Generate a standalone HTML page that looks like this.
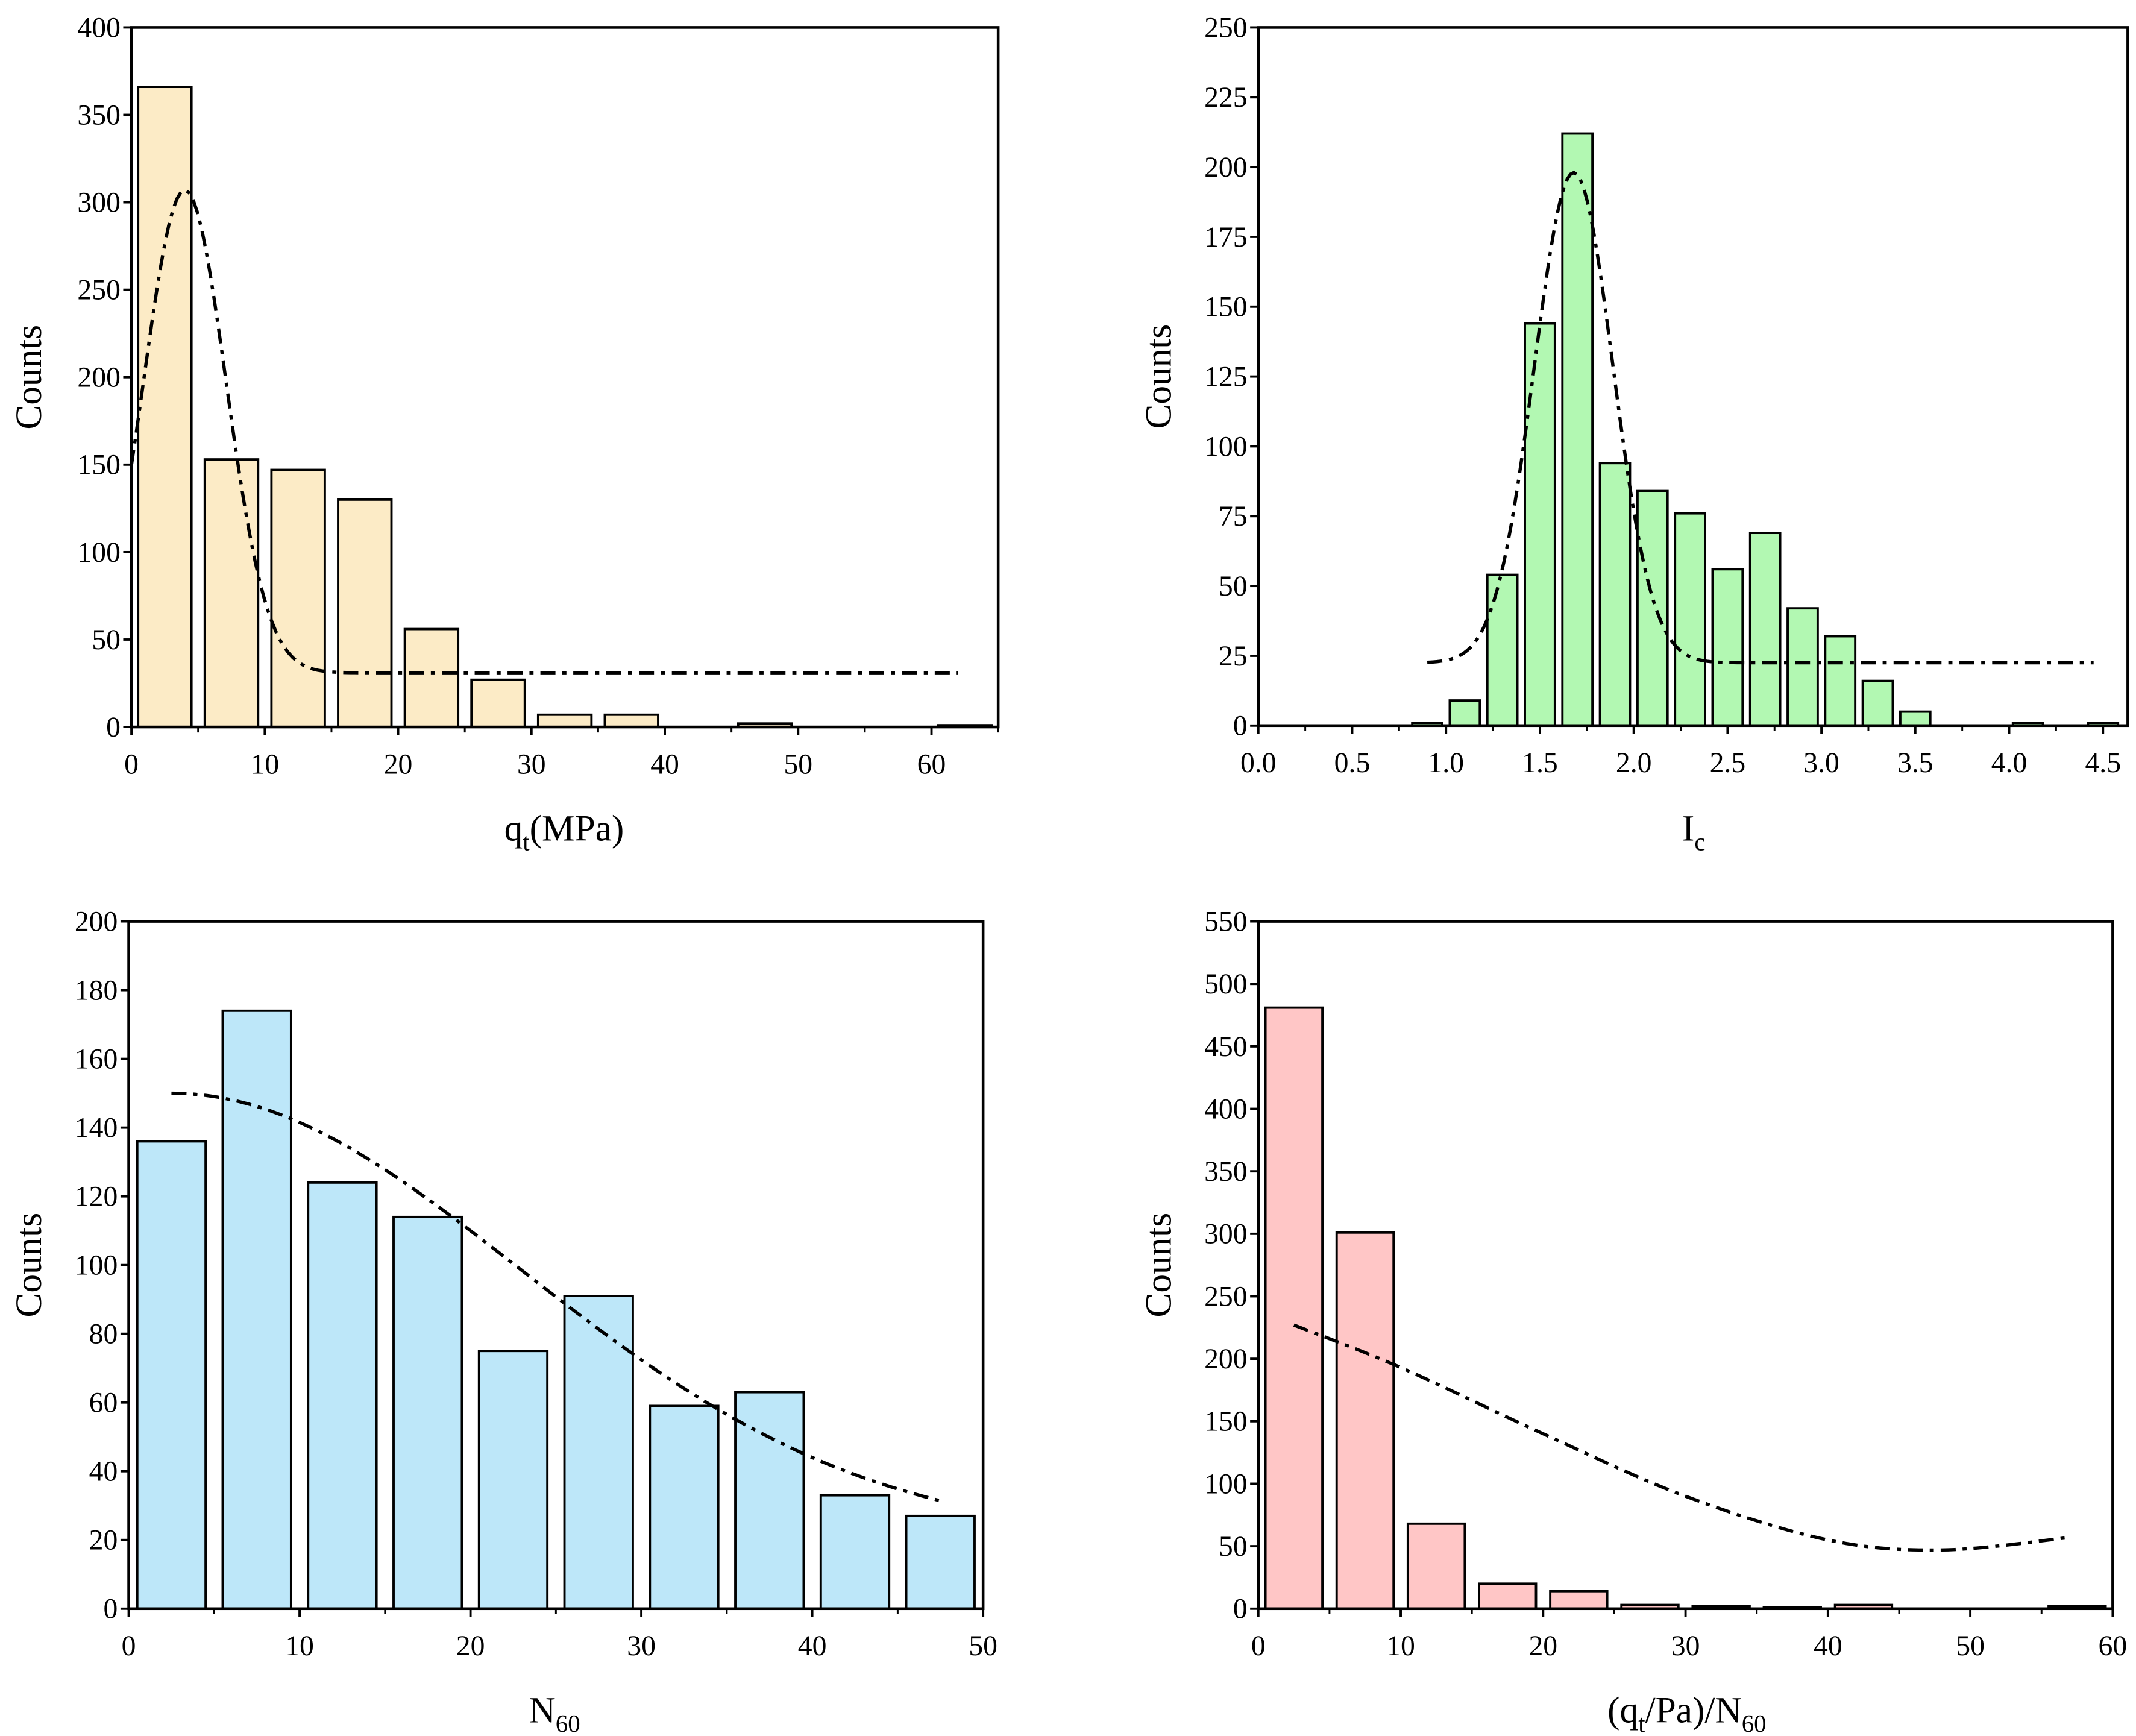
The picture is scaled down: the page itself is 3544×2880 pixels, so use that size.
<!DOCTYPE html>
<html><head><meta charset="utf-8"><style>
html,body{margin:0;padding:0;background:#fff;}
svg{display:block;font-family:"Liberation Serif","DejaVu Serif",serif;}
</style></head><body>
<svg id="fig" width="3544" height="2880" viewBox="0 0 1560 1268" preserveAspectRatio="none" xmlns="http://www.w3.org/2000/svg"></svg>
<script>
// ---- data ----
const qtBinStarts = [0,5,10,15,20,25,30,35,40,45,50,55,60];
const qtCounts = [366,153,147,130,56,27,7,7,0,2,0,0,1];
const qtFit = [31,276,4,3.08]; // offset, amplitude, center, sigma
const qtFitRange = [0,62];
const qtXTicks = [0,10,20,30,40,50,60];
const qtYTicks = [0,50,100,150,200,250,300,350,400];

const icBinStarts = [0.8,1.0,1.2,1.4,1.6,1.8,2.0,2.2,2.4,2.6,2.8,3.0,3.2,3.4,3.6,3.8,4.0,4.2,4.4];
const icCounts = [1,9,54,144,212,94,84,76,56,69,42,32,16,5,0,0,1,0,1];
const icFit = [22.5,175.5,1.68,0.209];
const icFitRange = [0.9,4.45];
const icXTicks = [0.0,0.5,1.0,1.5,2.0,2.5,3.0,3.5,4.0,4.5];
const icYTicks = [0,25,50,75,100,125,150,175,200,225,250];

const n60BinStarts = [0,5,10,15,20,25,30,35,40,45];
const n60Counts = [136,174,124,114,75,91,59,63,33,27];
const n60Fit = [20,130,2.5,20.4];
const n60FitRange = [2.5,47.5];
const n60XTicks = [0,10,20,30,40,50];
const n60YTicks = [0,20,40,60,80,100,120,140,160,180,200];

const ratioBinStarts = [0,5,10,15,20,25,30,35,40,45,50,55];
const ratioCounts = [481,301,68,20,14,3,2,1,3,0,0,2];
const ratioCurveX = [2.5,10,20,30,40,48,57];
const ratioCurveY = [227,193,140,90,55,47,57];
const ratioXTicks = [0,10,20,30,40,50,60];
const ratioYTicks = [0,50,100,150,200,250,300,350,400,450,500,550];

const NS="http://www.w3.org/2000/svg";
const svg=document.getElementById('fig');
function mk(tag,attrs,parent){const e=document.createElementNS(NS,tag);for(const k in attrs)e.setAttribute(k,attrs[k]);(parent||svg).appendChild(e);return e;}

function panel(p){
  const g=mk('g',{});
  
  
  const sx=v=>p.px0+(v-p.xmin)/(p.xmax-p.xmin)*(p.px1-p.px0);
  const sy=v=>p.py0-(v)/(p.ymax)*(p.py0-p.py1);
  p.starts.forEach((s,i)=>{
    const v=p.counts[i]; if(v<=0) return;
    const xa=sx(s+p.pad), xb=sx(s+p.bw-p.pad);
    const r=mk('rect',{x:xa,y:sy(v),width:xb-xa,height:sy(0)-sy(v),fill:p.color,stroke:'#000','stroke-width':1.7},g);
    
    
  });
  let pts=[];
  if(p.fit){
    const [a,b,c,s]=p.fit;
    for(let k=0;k<=200;k++){const x=p.fitRange[0]+(p.fitRange[1]-p.fitRange[0])*k/200;const y=a+b*Math.exp(-(x-c)*(x-c)/(2*s*s));pts.push([sx(x),sy(y)]);}
  } else {
    const X=p.cx,Y=p.cy;
    for(let i=0;i<X.length-1;i++){
      const p0=[X[Math.max(i-1,0)],Y[Math.max(i-1,0)]],p1=[X[i],Y[i]],p2=[X[i+1],Y[i+1]],p3=[X[Math.min(i+2,X.length-1)],Y[Math.min(i+2,X.length-1)]];
      for(let t=0;t<1;t+=0.05){const t2=t*t,t3=t2*t;
        const f=(a,b,c,d)=>0.5*((2*b)+(-a+c)*t+(2*a-5*b+4*c-d)*t2+(-a+3*b-3*c+d)*t3);
        pts.push([sx(f(p0[0],p1[0],p2[0],p3[0])),sy(f(p0[1],p1[1],p2[1],p3[1]))]);}
    }
    pts.push([sx(X[X.length-1]),sy(Y[Y.length-1])]);
  }
  const c=mk('polyline',{points:pts.map(q=>q[0].toFixed(2)+','+q[1].toFixed(2)).join(' '),fill:'none',stroke:'#000','stroke-width':2.4,'stroke-dasharray':'11 5 3 5'},g);
  
  
  const f=mk('rect',{x:p.px0,y:p.py1,width:p.px1-p.px0,height:p.py0-p.py1,fill:'none',stroke:'#000','stroke-width':2},g);
  
  
  const xa=mk('g',{},g);
  
  
  p.xticks.forEach((t,i)=>{
    const x=sx(t);
    mk('line',{x1:x,y1:p.py0,x2:x,y2:p.py0+6,stroke:'#000','stroke-width':1.7},xa);
    const tx=mk('text',{x:x,y:p.py0+34,'font-size':21,'text-anchor':'middle'},xa);
    tx.textContent=p.xfmt?t.toFixed(1):String(t);
    
    
    const m=t+p.minorStep; if(m<=p.xmax) mk('line',{x1:sx(m),y1:p.py0,x2:sx(m),y2:p.py0+4,stroke:'#000','stroke-width':1.3},xa);
  });
  const ya=mk('g',{},g);
  
  
  p.yticks.forEach(t=>{
    const y=sy(t);
    mk('line',{x1:p.px0-6,y1:y,x2:p.px0,y2:y,stroke:'#000','stroke-width':1.7},ya);
    const tx=mk('text',{x:p.px0-8,y:y+7,'font-size':21,'text-anchor':'end'},ya);
    tx.textContent=String(t);
    
    
  });
  const yt=mk('text',{x:0,y:0,'font-size':27,'text-anchor':'middle',transform:`translate(${p.ytx},${(p.py0+p.py1)/2}) rotate(-90)`},g);
  yt.textContent='Counts';
  
  
  const xt=mk('text',{x:p.xtx,y:p.xty,'font-size':27,'text-anchor':'middle'},g);
  xt.innerHTML=p.xtitle;
  
  
}

panel({name:'qt-histogram',px0:96,px1:729,xmin:0,xmax:65,py0:531,py1:20,ymax:400,starts:qtBinStarts,counts:qtCounts,bw:5,pad:0.5,color:'#FCEBC6',fit:qtFit,fitRange:qtFitRange,xticks:qtXTicks,yticks:qtYTicks,minorStep:5,ytx:30,xtx:412,xty:614,xtitle:'q<tspan font-size="18" dy="7">t</tspan><tspan dy="-7">(MPa)</tspan>'});
panel({name:'ic-histogram',px0:919,px1:1554,xmin:0,xmax:4.632,py0:530,py1:20,ymax:250,starts:icBinStarts,counts:icCounts,bw:0.2,pad:0.02,color:'#B2F8B2',fit:icFit,fitRange:icFitRange,xticks:icXTicks,yticks:icYTicks,minorStep:0.25,xfmt:true,ytx:855,xtx:1237,xty:614,xtitle:'I<tspan font-size="18" dy="7">c</tspan>'});
panel({name:'n60-histogram',px0:94,px1:718,xmin:0,xmax:50,py0:1175,py1:673,ymax:200,starts:n60BinStarts,counts:n60Counts,bw:5,pad:0.5,color:'#BDE7F9',fit:n60Fit,fitRange:n60FitRange,xticks:n60XTicks,yticks:n60YTicks,minorStep:5,ytx:30,xtx:405,xty:1258,xtitle:'N<tspan font-size="18" dy="7">60</tspan>'});
panel({name:'ratio-histogram',px0:919,px1:1543,xmin:0,xmax:60,py0:1175,py1:673,ymax:550,starts:ratioBinStarts,counts:ratioCounts,bw:5,pad:0.5,color:'#FFC6C6',cx:ratioCurveX,cy:ratioCurveY,xticks:ratioXTicks,yticks:ratioYTicks,minorStep:5,ytx:855,xtx:1232,xty:1258,xtitle:'(q<tspan font-size="18" dy="7">t</tspan><tspan dy="-7">/Pa)/N</tspan><tspan font-size="18" dy="7">60</tspan>'});
</script>
</body></html>
